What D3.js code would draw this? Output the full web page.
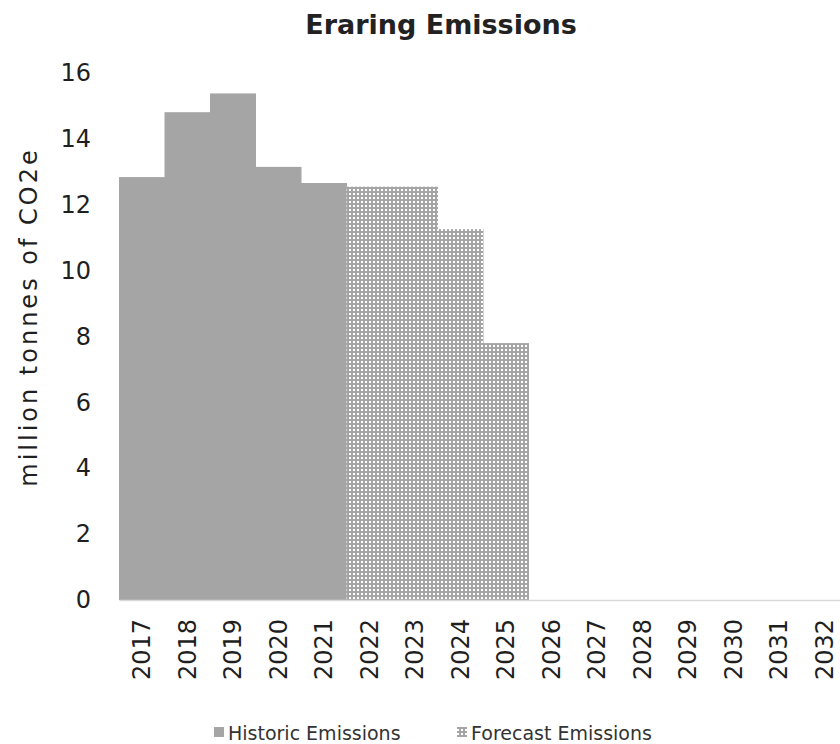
<!DOCTYPE html>
<html><head><meta charset="utf-8">
<script src="https://cdn.jsdelivr.net/npm/d3@7"></script>
<style>body{margin:0;background:#fff}svg{display:block}</style>
</head><body>
<svg id="c" width="840" height="744"></svg>
<script>
const years = ["2017","2018","2019","2020","2021","2022","2023","2024","2025","2026","2027","2028","2029","2030","2031","2032"];
const historic = [12.84, 14.81, 15.38, 13.15, 12.66, null, null, null, null, null, null, null, null, null, null, null];
const forecast = [null, null, null, null, null, 12.55, 12.55, 11.26, 7.80, null, null, null, null, null, null, null];
const yTicks = [0, 2, 4, 6, 8, 10, 12, 14, 16];
const title = "Eraring Emissions";
const yLabel = "million tonnes of CO2e";
const seriesNames = ["Historic Emissions", "Forecast Emissions"];

const FONT = "'DejaVu Sans', sans-serif";
const svg = d3.select("#c");
const defs = svg.append("defs");
const pat = defs.append("pattern").attr("id","dots").attr("patternUnits","userSpaceOnUse")
  .attr("width",4).attr("height",4);
pat.append("rect").attr("width",4).attr("height",4).attr("fill","#a5a5a5");
pat.append("rect").attr("x",1).attr("y",1).attr("width",2).attr("height",2).attr("fill","#ffffff");

const x = d3.scaleBand().domain(years).range([119, 847]).padding(0);
const y = d3.scaleLinear().domain([0, 16]).range([600, 73]);

// bars
const g = svg.append("g");
g.selectAll("rect.h").data(years.map((d,i)=>({k:d,v:historic[i]})).filter(d=>d.v!=null))
  .join("rect").attr("class","h")
  .attr("x",d=>x(d.k)).attr("width",x.bandwidth() + 0.5)
  .attr("y",d=>y(d.v)).attr("height",d=>y(0)-y(d.v))
  .attr("fill","#a5a5a5");
g.selectAll("rect.f").data(years.map((d,i)=>({k:d,v:forecast[i]})).filter(d=>d.v!=null))
  .join("rect").attr("class","f")
  .attr("x",d=>x(d.k)).attr("width",x.bandwidth() + 0.5)
  .attr("y",d=>y(d.v)).attr("height",d=>y(0)-y(d.v))
  .attr("fill","url(#dots)");

// x axis
const xa = svg.append("g").attr("transform","translate(0,600)")
  .call(d3.axisBottom(x).tickSize(0).tickPadding(0));
xa.select(".domain").attr("stroke","#d9d9d9").attr("stroke-width",1.5);
xa.selectAll("text").attr("font-family",FONT).attr("font-size",24).attr("fill","#1f1f1f")
  .attr("transform","rotate(-90)").attr("text-anchor","end")
  .attr("x",-19).attr("y",0).attr("dy","0.36em");

// y axis
const ya = svg.append("g").attr("transform","translate(119,0)")
  .call(d3.axisLeft(y).tickValues(yTicks).tickSize(0).tickPadding(28));
ya.select(".domain").remove();
ya.selectAll("text").attr("font-family",FONT).attr("font-size",24).attr("fill","#1f1f1f");

// y label
svg.append("text").attr("transform","translate(37,317) rotate(-90)")
  .attr("text-anchor","middle").attr("font-family",FONT).attr("font-size",24)
  .attr("letter-spacing",3).attr("fill","#1f1f1f")
  .text(yLabel);

// title
svg.append("text").attr("x",441).attr("y",34).attr("text-anchor","middle")
  .attr("font-family",FONT).attr("font-weight","bold").attr("font-size",27).attr("fill","#222")
  .text(title);

// legend
const leg = svg.append("g");
const lx = [214, 457];
const fills = ["#a5a5a5","url(#dots)"];
seriesNames.forEach((n,i)=>{
  leg.append("rect").attr("x",lx[i]).attr("y",727).attr("width",10).attr("height",10).attr("fill",fills[i]);
  leg.append("text").attr("x",lx[i]+14).attr("y",733).attr("dy","0.35em")
    .attr("font-family",FONT).attr("font-size",19).attr("fill","#333").text(n);
});
</script>
</body></html>
